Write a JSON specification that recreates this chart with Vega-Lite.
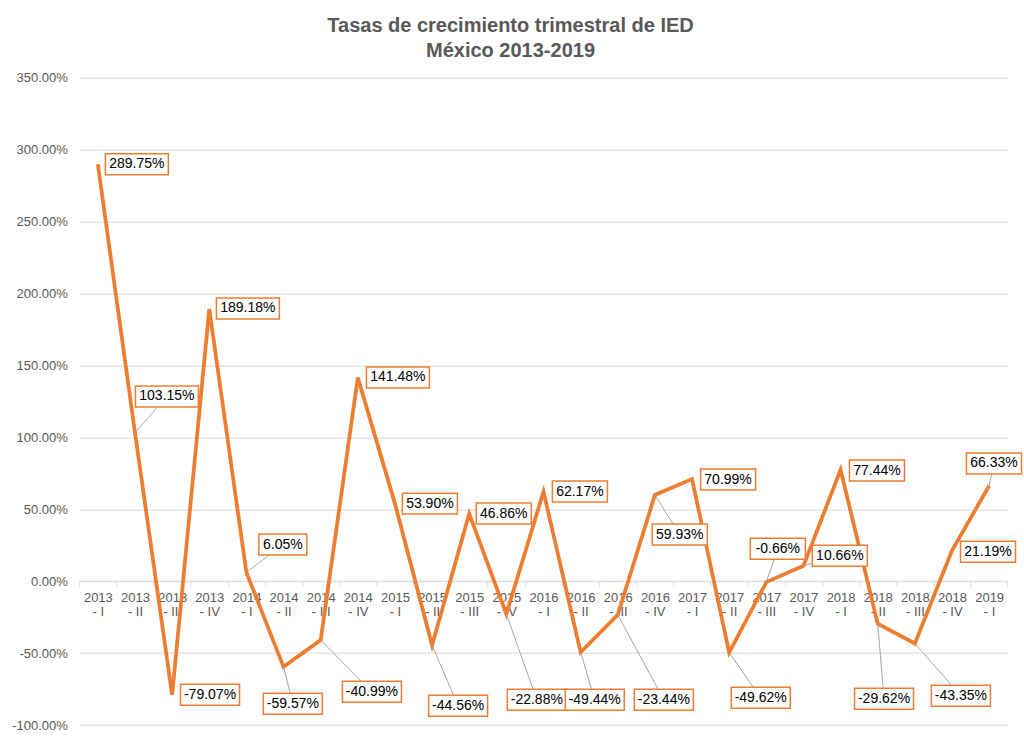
{
  "$schema": "https://vega.github.io/schema/vega-lite/v6.json",
  "autosize": {"type": "none"},
  "width": 928.4,
  "height": 647.3,
  "padding": {"left": 79.3, "top": 77.7, "right": 16.3, "bottom": 17},
  "background": "white",
  "title": {
    "text": ["Tasas de crecimiento trimestral de IED", "México 2013-2019"],
    "font": "Liberation Sans",
    "fontSize": 20,
    "fontWeight": "bold",
    "color": "#595959",
    "anchor": "middle",
    "frame": "group",
    "dx": -33,
    "offset": 11,
    "lineHeight": 24.5
  },
  "config": {
    "font": "Liberation Sans",
    "view": {"stroke": null},
    "locale": {"number": {"decimal": ".", "thousands": ",", "grouping": [3], "currency": ["$", ""], "minus": "-"}}
  },
  "data": {"values": [
    {"p": "2013 - I", "i": 0, "v": 2.8975, "lx": 1.05, "ly": 2.898},
    {"p": "2013 - II", "i": 1, "v": 1.0315, "lx": 1.86, "ly": 1.284},
    {"p": "2013 - III", "i": 2, "v": -0.7907, "lx": 3.02, "ly": -0.790},
    {"p": "2013 - IV", "i": 3, "v": 1.8918, "lx": 4.04, "ly": 1.896},
    {"p": "2014 - I", "i": 4, "v": 0.0605, "lx": 4.98, "ly": 0.254},
    {"p": "2014 - II", "i": 5, "v": -0.5957, "lx": 5.25, "ly": -0.852},
    {"p": "2014 - III", "i": 6, "v": -0.4099, "lx": 7.38, "ly": -0.769},
    {"p": "2014 - IV", "i": 7, "v": 1.4148, "lx": 8.08, "ly": 1.416},
    {"p": "2015 - I", "i": 8, "v": 0.5390, "lx": 8.94, "ly": 0.539},
    {"p": "2015 - II", "i": 9, "v": -0.4456, "lx": 9.70, "ly": -0.866},
    {"p": "2015 - III", "i": 10, "v": 0.4686, "lx": 10.93, "ly": 0.470},
    {"p": "2015 - IV", "i": 11, "v": -0.2288, "lx": 11.82, "ly": -0.825},
    {"p": "2016 - I", "i": 12, "v": 0.6217, "lx": 12.98, "ly": 0.623},
    {"p": "2016 - II", "i": 13, "v": -0.4944, "lx": 13.38, "ly": -0.825},
    {"p": "2016 - III", "i": 14, "v": -0.2344, "lx": 15.24, "ly": -0.825},
    {"p": "2016 - IV", "i": 15, "v": 0.5993, "lx": 15.67, "ly": 0.324},
    {"p": "2017 - I", "i": 16, "v": 0.7099, "lx": 16.97, "ly": 0.706},
    {"p": "2017 - II", "i": 17, "v": -0.4962, "lx": 17.85, "ly": -0.811},
    {"p": "2017 - III", "i": 18, "v": -0.0066, "lx": 18.31, "ly": 0.226},
    {"p": "2017 - IV", "i": 19, "v": 0.1066, "lx": 19.98, "ly": 0.177},
    {"p": "2018 - I", "i": 20, "v": 0.7744, "lx": 20.98, "ly": 0.769},
    {"p": "2018 - II", "i": 21, "v": -0.2962, "lx": 21.17, "ly": -0.818},
    {"p": "2018 - III", "i": 22, "v": -0.4335, "lx": 23.24, "ly": -0.797},
    {"p": "2018 - IV", "i": 23, "v": 0.2119, "lx": 23.97, "ly": 0.205},
    {"p": "2019 - I", "i": 24, "v": 0.6633, "lx": 24.13, "ly": 0.818}
  ]},
  "layer": [
    {
      "mark": {"type": "line", "color": "#ED7D31", "strokeWidth": 3.75},
      "encoding": {
        "x": {
          "field": "p", "type": "nominal", "sort": null,
          "scale": {"type": "band", "paddingInner": 0, "paddingOuter": 0},
          "axis": {
            "title": null,
            "labelAngle": 0,
            "labelExpr": "[slice(datum.label,0,4), slice(datum.label,5)]",
            "labelFontSize": 13,
            "labelColor": "#595959",
            "labelLineHeight": 14.5,
            "labelPadding": 5,
            "tickBand": "extent",
            "ticks": true,
            "tickSize": 5,
            "tickColor": "#D9D9D9",
            "domainColor": "#D9D9D9",
            "offset": -143.8,
            "grid": false
          }
        },
        "y": {
          "field": "v", "type": "quantitative",
          "scale": {"domain": [-1, 3.5], "nice": false, "zero": false},
          "axis": {
            "title": null,
            "values": [-1, -0.5, 0, 0.5, 1, 1.5, 2, 2.5, 3, 3.5],
            "format": ".2%",
            "labelFontSize": 13,
            "labelColor": "#595959",
            "labelPadding": 12,
            "ticks": false,
            "tickSize": 0,
            "domain": false,
            "grid": true,
            "gridColor": "#D9D9D9",
            "gridWidth": 1
          }
        }
      }
    },
    {
      "transform": [{"filter": "abs(datum.ly - datum.v) > 0.05"}],
      "mark": {"type": "rule", "color": "#A6A6A6", "strokeWidth": 1},
      "encoding": {
        "x": {"field": "i", "type": "quantitative", "scale": {"domain": [-0.5, 24.5], "nice": false, "zero": false}, "axis": null},
        "x2": {"field": "lx"},
        "y": {"field": "v", "type": "quantitative", "scale": {"domain": [-1, 3.5], "nice": false, "zero": false}},
        "y2": {"field": "ly"}
      }
    },
    {
      "mark": {"type": "point", "filled": true, "fill": "white", "stroke": "#ED7D31", "strokeWidth": 1.5, "opacity": 1, "size": 4096},
      "encoding": {
        "x": {"field": "lx", "type": "quantitative", "scale": {"domain": [-0.5, 24.5], "nice": false, "zero": false}, "axis": null},
        "y": {"field": "ly", "type": "quantitative", "scale": {"domain": [-1, 3.5], "nice": false, "zero": false}},
        "shape": {
          "condition": [
            {"test": "datum.v >= 1", "value": "M-0.984,-0.328H0.984V0.328H-0.984Z"},
            {"test": "datum.v <= -0.1", "value": "M-0.922,-0.328H0.922V0.328H-0.922Z"},
            {"test": "datum.v >= 0 && datum.v < 0.1", "value": "M-0.75,-0.328H0.75V0.328H-0.75Z"}
          ],
          "value": "M-0.86,-0.328H0.86V0.328H-0.86Z"
        }
      }
    },
    {
      "mark": {"type": "text", "font": "Liberation Sans", "fontSize": 14, "color": "#000000", "align": "center", "baseline": "middle"},
      "encoding": {
        "x": {"field": "lx", "type": "quantitative", "scale": {"domain": [-0.5, 24.5], "nice": false, "zero": false}, "axis": null},
        "y": {"field": "ly", "type": "quantitative", "scale": {"domain": [-1, 3.5], "nice": false, "zero": false}},
        "text": {"field": "v", "type": "quantitative", "format": ".2%"}
      }
    }
  ],
  "resolve": {"scale": {"x": "independent"}, "axis": {"x": "independent"}}
}
